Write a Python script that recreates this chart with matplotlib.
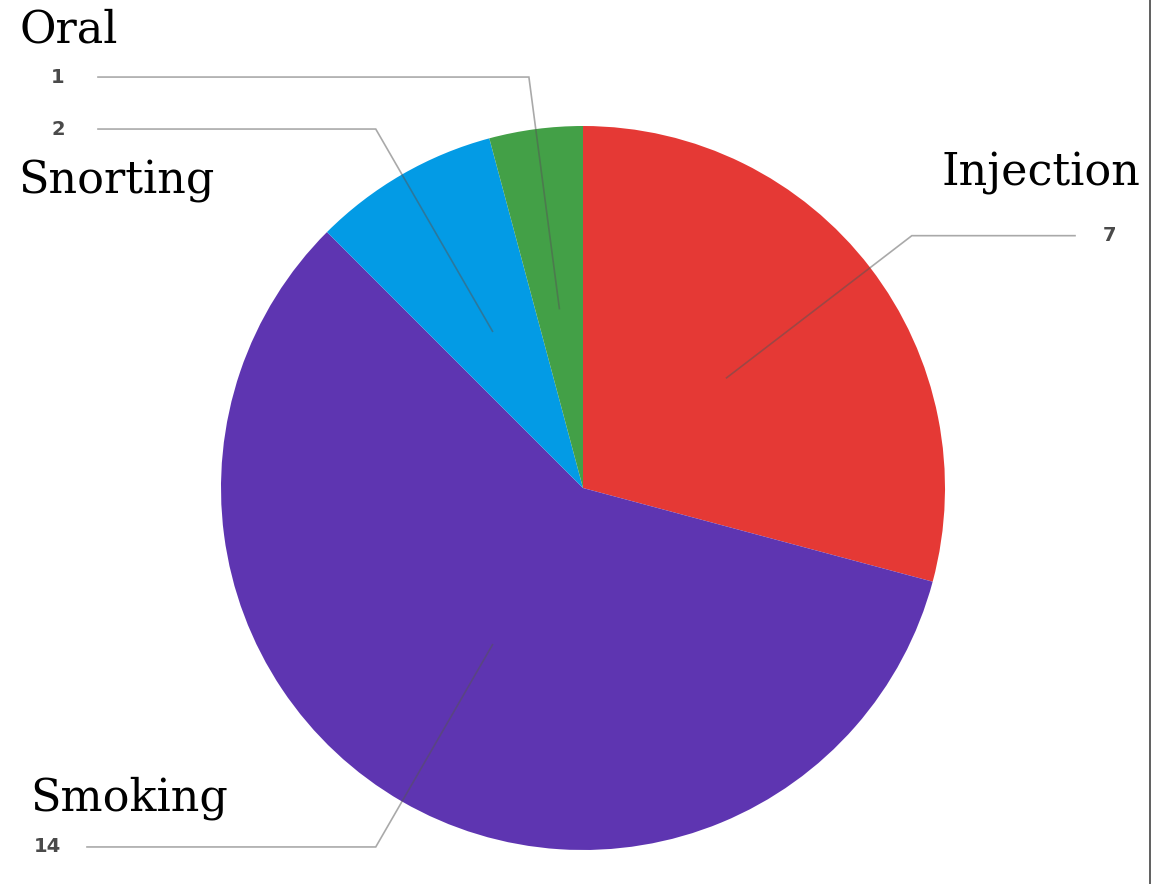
import numpy as np
import matplotlib.pyplot as plt

# routes of administration and counts
methods = ['Injection', 'Smoking', 'Snorting', 'Oral']
counts = [7, 14, 2, 1]
colors = ['#E53935', '#5E35B1', '#039BE5', '#43A047']

W, H = 1170, 884
fig = plt.figure(figsize=(W / 100, H / 100), dpi=100)
ax = fig.add_axes([0, 0, 1, 1])

cx, cy, R = 583, H - 488, 362
wedges, _ = ax.pie(counts, colors=colors, startangle=90, counterclock=False,
                   center=(cx, cy), radius=R, frame=True,
                   wedgeprops=dict(linewidth=0))
ax.set_xlim(0, W)
ax.set_ylim(0, H)
ax.axis('off')

# leader lines: from inside the slice out to an elbow, then flat to the value
label_x = {'Injection': 1110, 'Smoking': 47, 'Snorting': 58, 'Oral': 58}
for w, name, n in zip(wedges, methods, counts):
    mid = np.deg2rad((w.theta1 + w.theta2) / 2)
    ux, uy = np.cos(mid), np.sin(mid)
    x0, y0 = cx + 0.5 * R * ux, cy + 0.5 * R * uy
    x1, y1 = cx + 1.145 * R * ux, cy + 1.145 * R * uy
    tx = label_x[name]
    end = tx - 35 if ux > 0 else tx + 40
    ax.plot([x0, x1, end], [y0, y1, y1], color='#555555', alpha=0.5, lw=1.2,
            solid_joinstyle='miter')
    ax.text(tx, y1, str(n), ha='center', va='center', fontsize=14,
            color='#4a4a4a', fontweight='bold', family='DejaVu Sans')

# category names
name_font = dict(fontsize=32, family='DejaVu Serif', color='black')
ax.text(20, H - 30, 'Oral', ha='left', va='center', **name_font)
ax.text(18, H - 181, 'Snorting', ha='left', va='center', **name_font)
ax.text(1140, H - 173, 'Injection', ha='right', va='center', **name_font)
ax.text(30, H - 798, 'Smoking', ha='left', va='center', **name_font)

# right border
ax.plot([1150, 1150], [0, H], color='#444444', lw=1.2)

fig.savefig('out.png', dpi=100)
